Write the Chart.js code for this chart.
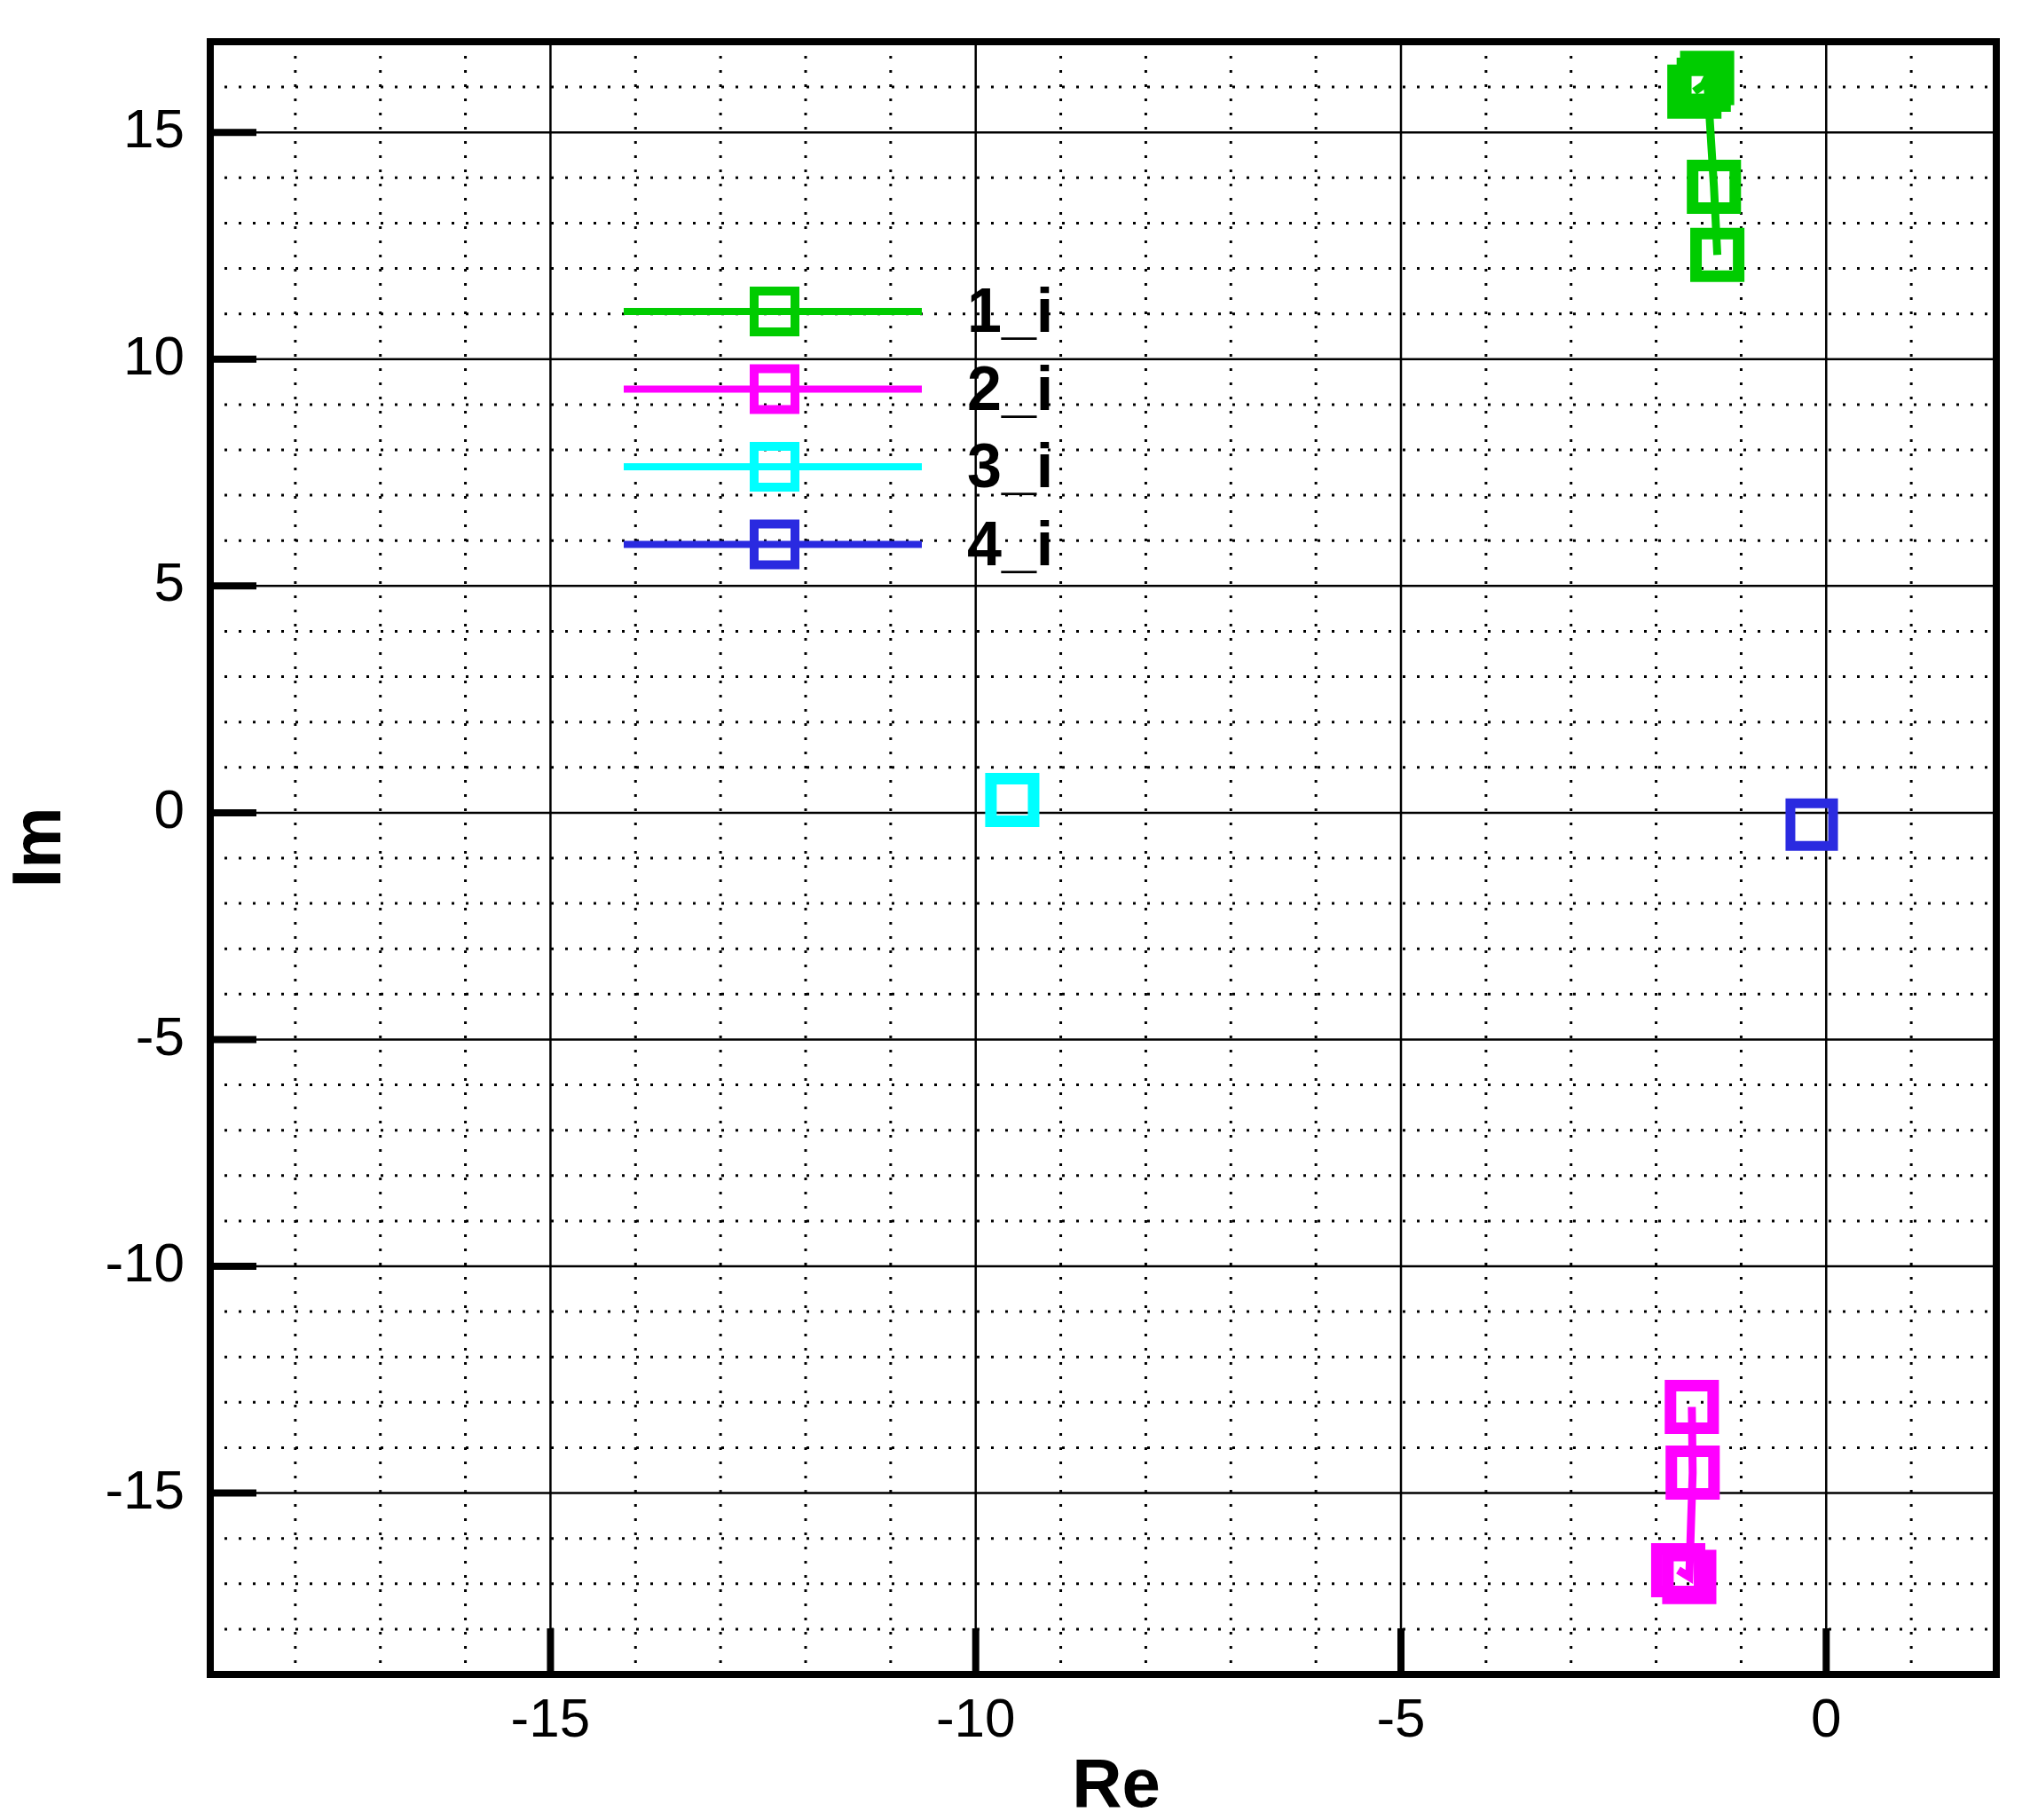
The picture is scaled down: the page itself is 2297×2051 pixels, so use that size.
<!DOCTYPE html>
<html>
<head>
<script src="https://cdn.jsdelivr.net/npm/chart.js@4"></script>
<style>
  body { margin: 0; background: #fff; }
  #wrap { width: 2297px; height: 2051px; }
</style>
</head>
<body>
<div id="wrap"><canvas id="chart"></canvas></div>
<script>
// series values (Re, Im)
const seriesNames = ['1_i', '2_i', '3_i', '4_i'];
const seriesColors = ['#00cc00', '#ff00ff', '#00ffff', '#2a2ae0'];
const re1 = [-1.28, -1.32, -1.40, -1.44, -1.55];
const im1 = [12.3, 13.8, 16.2, 16.05, 15.9];
const re2 = [-1.58, -1.57, -1.61, -1.74];
const im2 = [-13.1, -14.55, -16.85, -16.7];
const re3 = [-9.57];
const im3 = [0.28];
const re4 = [-0.17];
const im4 = [-0.26];
const xTicks = [-15, -10, -5, 0];
const yTicks = [-15, -10, -5, 0, 5, 10, 15];

const FONT = '"Liberation Sans", Arial, sans-serif';

function pts(re, im) { return re.map((x, i) => ({x: x, y: im[i]})); }
const allRe = [re1, re2, re3, re4];
const allIm = [im1, im2, im3, im4];

const datasets = seriesNames.map((n, i) => ({
  label: n,
  data: pts(allRe[i], allIm[i]),
  showLine: true,
  borderColor: seriesColors[i],
  backgroundColor: 'rgba(0,0,0,0)',
  borderWidth: 9,
  pointStyle: 'rect',
  pointRadius: 34,
  pointBorderWidth: i == 3 ? 11 : 13,
  pointBorderColor: seriesColors[i],
  pointBackgroundColor: 'rgba(0,0,0,0)'
}));

const gridPlugin = {
  id: 'grid',
  beforeDatasetsDraw(chart) {
    const ctx = chart.ctx, a = chart.chartArea;
    const xs = chart.scales.x, ys = chart.scales.y;
    ctx.save();
    ctx.strokeStyle = '#000';
    // minor dotted grid every unit
    ctx.lineWidth = 3;
    ctx.setLineDash([3, 13]);
    for (let v = Math.ceil(xs.min); v <= xs.max; v++) {
      if (v % 5 === 0) continue;
      const p = xs.getPixelForValue(v);
      ctx.beginPath(); ctx.moveTo(p, a.top); ctx.lineTo(p, a.bottom); ctx.stroke();
    }
    for (let v = Math.ceil(ys.min); v <= ys.max; v++) {
      if (v % 5 === 0) continue;
      const p = ys.getPixelForValue(v);
      ctx.beginPath(); ctx.moveTo(a.left, p); ctx.lineTo(a.right, p); ctx.stroke();
    }
    // major solid grid
    ctx.setLineDash([]);
    ctx.lineWidth = 2.5;
    xTicks.forEach(v => {
      const p = xs.getPixelForValue(v);
      ctx.beginPath(); ctx.moveTo(p, a.top); ctx.lineTo(p, a.bottom); ctx.stroke();
    });
    yTicks.forEach(v => {
      const p = ys.getPixelForValue(v);
      ctx.beginPath(); ctx.moveTo(a.left, p); ctx.lineTo(a.right, p); ctx.stroke();
    });
    // major tick marks inside frame
    ctx.lineWidth = 8;
    xTicks.forEach(v => {
      const p = xs.getPixelForValue(v);
      ctx.beginPath(); ctx.moveTo(p, a.bottom); ctx.lineTo(p, a.bottom - 52); ctx.stroke();
    });
    yTicks.forEach(v => {
      const p = ys.getPixelForValue(v);
      ctx.beginPath(); ctx.moveTo(a.left, p); ctx.lineTo(a.left + 52, p); ctx.stroke();
    });
    // tick labels and axis titles
    ctx.fillStyle = '#000';
    ctx.font = '62px ' + FONT;
    ctx.textAlign = 'center';
    ctx.textBaseline = 'middle';
    xTicks.forEach(v => ctx.fillText(String(v), xs.getPixelForValue(v), 1940));
    ctx.textAlign = 'right';
    yTicks.forEach(v => ctx.fillText(String(v), 208, ys.getPixelForValue(v)));
    ctx.font = 'bold 78px ' + FONT;
    ctx.textAlign = 'center';
    ctx.fillText('Re', 1258, 2014);
    ctx.translate(46, 955);
    ctx.rotate(-Math.PI / 2);
    ctx.fillText('Im', 0, 0);
    ctx.restore();
  },
  afterDatasetsDraw(chart) {
    const ctx = chart.ctx, a = chart.chartArea;
    ctx.save();
    // legend
    chart.data.datasets.forEach((ds, i) => {
      const y = 351 + i * 87.5;
      ctx.strokeStyle = ds.borderColor;
      ctx.lineWidth = 8;
      ctx.beginPath(); ctx.moveTo(703, y); ctx.lineTo(1039, y); ctx.stroke();
      ctx.lineWidth = 10;
      ctx.strokeRect(873 - 23, y - 23, 46, 46);
      ctx.fillStyle = '#000';
      ctx.font = 'bold 70px ' + FONT;
      ctx.textAlign = 'left';
      ctx.textBaseline = 'middle';
      ctx.fillText(ds.label, 1090, y + 4);
    });
    // frame
    ctx.strokeStyle = '#000';
    ctx.lineWidth = 8;
    ctx.strokeRect(a.left, a.top, a.right - a.left, a.bottom - a.top);
    ctx.restore();
  }
};

new Chart(document.getElementById('chart'), {
  type: 'scatter',
  data: { datasets: datasets },
  plugins: [gridPlugin],
  options: {
    responsive: true,
    maintainAspectRatio: false,
    animation: false,
    layout: { padding: { top: 18, right: 13, left: 0, bottom: 0 } },
    plugins: { legend: { display: false }, tooltip: { enabled: false } },
    scales: {
      x: {
        min: -19, max: 2,
        afterFit: s => { s.height = 164; },
        grid: { display: false },
        border: { display: false },
        ticks: { display: false }
      },
      y: {
        min: -19, max: 17,
        afterFit: s => { s.width = 237; },
        grid: { display: false },
        border: { display: false },
        ticks: { display: false }
      }
    }
  }
});
</script>
</body>
</html>
